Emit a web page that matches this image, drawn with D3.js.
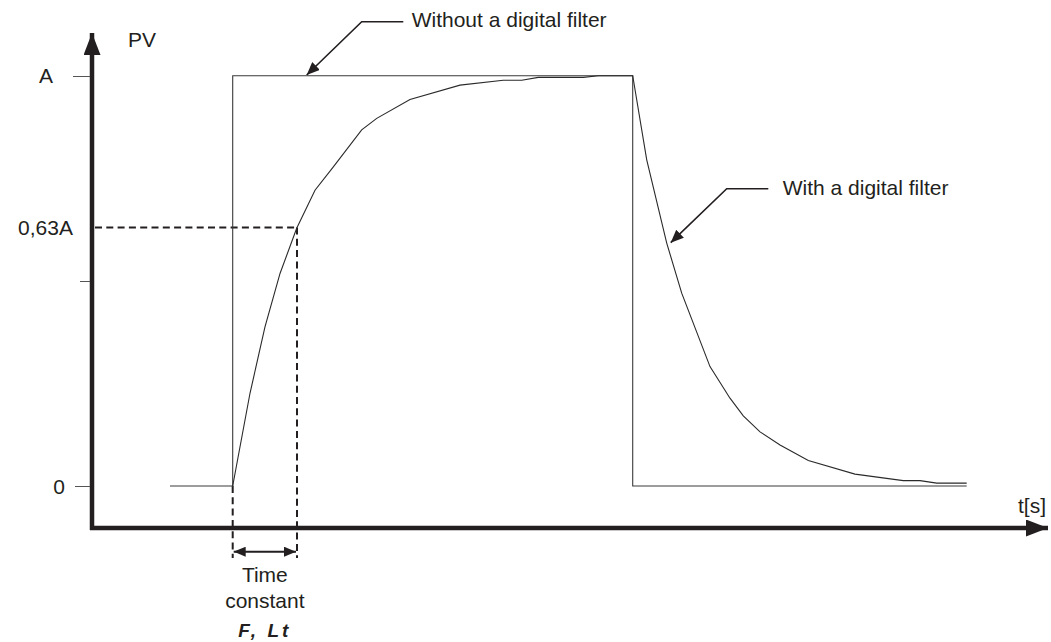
<!DOCTYPE html>
<html>
<head>
<meta charset="utf-8">
<script src="https://cdn.jsdelivr.net/npm/d3@7"></script>
<style>
  html, body { margin: 0; padding: 0; background: #fff; }
  svg { display: block; font-family: "Liberation Sans", Arial, sans-serif; }
</style>
</head>
<body>
<svg id="chart" width="1051" height="642"></svg>
<script>
// ---- data (time in units of the filter time constant, PV as fraction of A) ----
const stepTimes  = [-0.975, 0, 0, 6.221, 6.221, 11.415];
const stepValues = [0, 0, 1, 1, 0, 0];

const filterTimes  = [0, 0.269, 0.502, 0.736, 0.995, 1.280, 1.565, 2.006, 2.240, 2.757, 3.535, 4.208, 4.495, 4.753, 5.453, 5.686, 6.221,
                      6.439, 6.750, 6.983, 7.423, 7.734, 7.941, 8.201, 8.512, 8.952, 9.678, 10.429, 10.689, 10.949, 11.415];
const filterValues = [0, 0.226, 0.388, 0.518, 0.628, 0.721, 0.778, 0.868, 0.896, 0.942, 0.977, 0.989, 0.989, 0.996, 0.996, 1.0, 1.0,
                      0.795, 0.592, 0.470, 0.291, 0.214, 0.171, 0.132, 0.100, 0.062, 0.029, 0.013, 0.013, 0.007, 0.007];

const tickValues = [0, 0.5, 0.63, 1];
const tickLabels = ["0", "", "0,63A", "A"];
const timeConstant = 1;
const level63 = 0.63;

const yAxisTitle = "PV";
const xAxisTitle = "t[s]";
const annotNoFilter = "Without a digital filter";
const annotFilter = "With a digital filter";
const tcLabel = ["Time", "constant"];
const paramLabel = "F, Lt";

// ---- scales ----
const x = d3.scaleLinear().domain([0, 1]).range([232.7, 297]);
const y = d3.scaleLinear().domain([0, 1]).range([486, 75.7]);

const svg = d3.select("#chart");
const ink = "#231f20";
const fontSize = 21;

// markers
const defs = svg.append("defs");
function marker(id, w, h) {
  defs.append("marker").attr("id", id)
    .attr("viewBox", `0 0 ${w} ${h}`).attr("refX", w).attr("refY", h / 2)
    .attr("markerWidth", w).attr("markerHeight", h).attr("markerUnits", "userSpaceOnUse")
    .attr("orient", "auto-start-reverse")
    .append("path").attr("d", `M0,0L${w},${h/2}L0,${h}Z`).attr("fill", ink);
}
marker("axisHead", 22, 17);
marker("ptr", 13, 11);
marker("dim", 12, 10);

// axes
const axisX0 = 92, axisY0 = 528;
svg.append("line").attr("x1", axisX0).attr("y1", axisY0 + 2).attr("x2", axisX0).attr("y2", 33)
  .attr("stroke", ink).attr("stroke-width", 4.5).attr("marker-end", "url(#axisHead)");
svg.append("line").attr("x1", axisX0 - 2).attr("y1", axisY0).attr("x2", 1048).attr("y2", axisY0)
  .attr("stroke", ink).attr("stroke-width", 4.5).attr("marker-end", "url(#axisHead)");

// y ticks
const tickLen = { "0": 15, "": 10, "0,63A": 0, "A": 17 };
const labelEnd = { "0": 65, "": 0, "0,63A": 73, "A": 53 };
tickValues.forEach((v, i) => {
  const lab = tickLabels[i];
  const len = tickLen[lab];
  if (len > 0) {
    svg.append("line").attr("x1", axisX0 - 2 - len).attr("x2", axisX0 - 2)
      .attr("y1", Math.round(y(v)) + 0.5).attr("y2", Math.round(y(v)) + 0.5)
      .attr("stroke", "#555").attr("stroke-width", 1);
  }
  if (lab) {
    svg.append("text").attr("x", labelEnd[lab]).attr("y", y(v) + 7.5)
      .attr("text-anchor", "end").attr("font-size", fontSize).attr("fill", ink).text(lab);
  }
});

// axis titles
svg.append("text").attr("x", 128).attr("y", 46.5).attr("font-size", fontSize).attr("fill", ink).text(yAxisTitle);
svg.append("text").attr("x", 1018).attr("y", 513).attr("font-size", fontSize).attr("fill", ink).text(xAxisTitle);

// dashed construction lines
const dash = "7,4.3";
svg.append("line").attr("x1", axisX0 + 3).attr("x2", x(timeConstant)).attr("y1", y(level63)).attr("y2", y(level63))
  .attr("stroke", ink).attr("stroke-width", 2).attr("stroke-dasharray", dash);
svg.append("line").attr("x1", x(timeConstant)).attr("x2", x(timeConstant)).attr("y1", y(level63)).attr("y2", 558)
  .attr("stroke", ink).attr("stroke-width", 2).attr("stroke-dasharray", dash);
svg.append("line").attr("x1", x(0)).attr("x2", x(0)).attr("y1", y(0)).attr("y2", 558)
  .attr("stroke", ink).attr("stroke-width", 2).attr("stroke-dasharray", dash);

// dimension arrow
svg.append("line").attr("x1", x(0) + 1).attr("x2", x(timeConstant) - 1).attr("y1", 551.7).attr("y2", 551.7)
  .attr("stroke", ink).attr("stroke-width", 2)
  .attr("marker-start", "url(#dim)").attr("marker-end", "url(#dim)");

// series
const line = d3.line().x(d => x(d[0])).y(d => y(d[1]));
svg.append("path").datum(stepTimes.map((t, i) => [t, stepValues[i]]))
  .attr("d", line).attr("fill", "none").attr("stroke", "#3a3a3a").attr("stroke-width", 1.1);
svg.append("path").datum(filterTimes.map((t, i) => [t, filterValues[i]]))
  .attr("d", line).attr("fill", "none").attr("stroke", "#2a2a2a").attr("stroke-width", 1.1);

// annotations
function callout(pts, text, tx, ty) {
  svg.append("path").attr("d", d3.line()(pts)).attr("fill", "none")
    .attr("stroke", ink).attr("stroke-width", 1.6).attr("marker-end", "url(#ptr)");
  svg.append("text").attr("x", tx).attr("y", ty).attr("font-size", fontSize).attr("fill", ink).text(text);
}
callout([[403.3, 21.7], [361.7, 21.7], [306.7, 75]], annotNoFilter, 411.7, 26.7);
callout([[768.3, 188.7], [726.7, 188.7], [670.7, 242.7]], annotFilter, 782.7, 195);

// time constant labels
const tcx = (x(0) + x(timeConstant)) / 2;
svg.append("text").attr("x", tcx).attr("y", 582).attr("text-anchor", "middle").attr("font-size", fontSize).attr("fill", ink).text(tcLabel[0]);
svg.append("text").attr("x", tcx).attr("y", 608).attr("text-anchor", "middle").attr("font-size", fontSize).attr("fill", ink).text(tcLabel[1]);
svg.append("text").attr("x", tcx).attr("y", 637).attr("text-anchor", "middle").attr("font-size", 19)
  .attr("font-style", "italic").attr("font-weight", "bold").attr("letter-spacing", 3).attr("fill", ink).text(paramLabel);
</script>
</body>
</html>
